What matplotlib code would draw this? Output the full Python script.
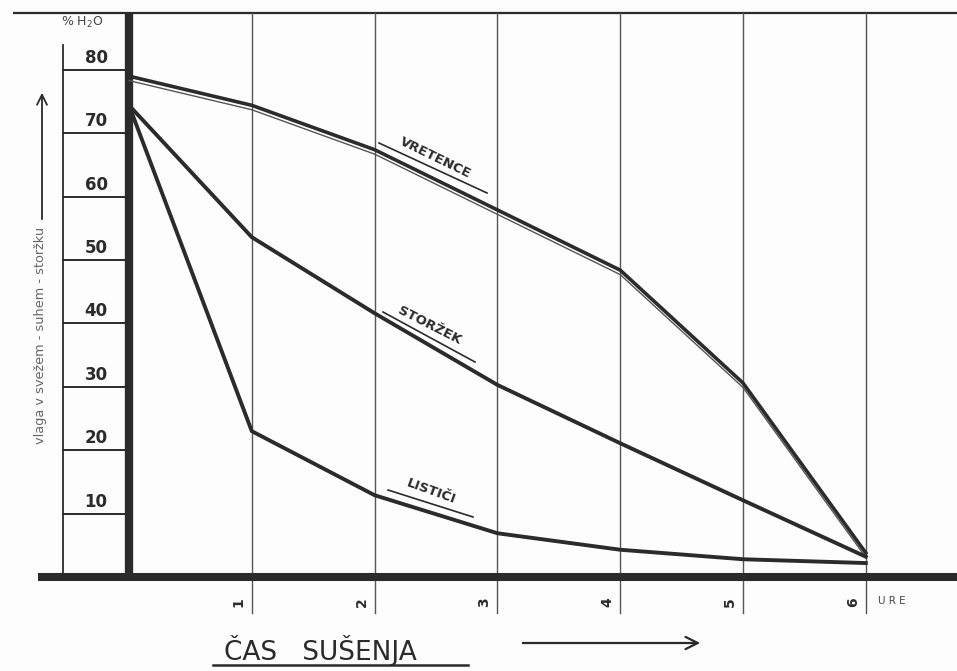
import matplotlib
matplotlib.use('Agg')
import matplotlib.pyplot as plt
import matplotlib.patheffects as pe

# drying curves, % H2O against hours
hours = [0, 1, 2, 3, 4, 5, 6]
vretence = [79.0, 74.4, 67.4, 57.9, 48.4, 30.6, 3.8]
storzek = [74.4, 53.6, 41.6, 30.3, 21.1, 12.1, 3.2]
listici = [74.4, 23.0, 12.9, 6.9, 4.3, 2.8, 2.2]
y_ticks = [10, 20, 30, 40, 50, 60, 70, 80]
x_ticks = [1, 2, 3, 4, 5, 6]

ink = '#2b2b2b'
W, H = 957, 671
# origin and scale of the drawing in pixels
X0, Y0 = 129, 577
PX_H, PX_P = 122.8, 6.34


def px(x, y):
    # pixel position -> data position
    return (x - X0) / PX_H, (Y0 - y) / PX_P


fig = plt.figure(figsize=(W / 100, H / 100), dpi=100)
fig.patch.set_facecolor('#fdfdfd')
ax = fig.add_axes([0, 0, 1, 1])
ax.set_xlim(px(0, 0)[0], px(W, 0)[0])
ax.set_ylim(px(0, H)[1], px(0, 0)[1])
ax.axis('off')

top = px(0, 13)[1]
bottom_grid = px(0, 613)[1]
xmax = px(W, 0)[0]

# frame
ax.plot([px(13, 0)[0], xmax], [top, top], color=ink, lw=1.6, solid_capstyle='butt')
for h in x_ticks:
    ax.plot([h, h], [bottom_grid, top], color='#555555', lw=1.0)
ax.plot([px(38, 0)[0], xmax], [0, 0], color=ink, lw=5.8, solid_capstyle='butt')
ax.plot([0, 0], [0, top], color=ink, lw=6.0, solid_capstyle='butt')

# y scale
xs = px(63, 0)[0]
ax.plot([xs, xs], [0, px(0, 45)[1]], color=ink, lw=1.3)
for v in y_ticks:
    ax.plot([xs, 0], [v, v], color=ink, lw=1.4)
    ax.text(px(96, 0)[0], v + 12 / PX_P, str(v), ha='center', va='center',
            fontsize=12, fontweight='bold', color=ink)
ax.text(*px(82, 22), '% H$_2$O', ha='center', va='center', fontsize=9, color='#444444')

ax.text(*px(41, 335), 'vlaga v svežem - suhem - storžku', rotation=90,
        ha='center', va='center', fontsize=9.3, color='#666666')
ax.annotate('', xy=px(42, 90), xytext=px(42, 222),
            arrowprops=dict(arrowstyle='->', lw=1.3, color=ink, mutation_scale=18))

# x scale
for h in x_ticks:
    ax.text(h - 13 / PX_H, px(0, 602)[1], str(h), rotation=90, ha='center', va='center',
            fontsize=10, fontweight='bold', color=ink)
ax.text(*px(878, 601), 'U R E', ha='left', va='center', fontsize=7.5, color='#444444')

ax.text(*px(224, 651), 'ČAS   SUŠENJA', ha='left', va='center', fontsize=19, color=ink)
ax.plot([px(213, 0)[0], px(468, 0)[0]], [px(0, 665)[1]] * 2, color=ink, lw=1.8)
ax.annotate('', xy=px(703, 643), xytext=px(520, 643),
            arrowprops=dict(arrowstyle='->', lw=1.6, color=ink, mutation_scale=22))

# curves
ax.plot(hours, vretence, color=ink, lw=2.6, solid_joinstyle='miter',
        path_effects=[pe.Stroke(linewidth=1.0, foreground='#555555', offset=(0, -3.2)),
                      pe.Normal()])
ax.plot(hours, storzek, color=ink, lw=2.8)
ax.plot(hours, listici, color=ink, lw=2.8)

# curve names with underline
labels = [('VRETENCE', (435, 158), -26, (379, 143), (487, 193)),
          ('STORŽEK', (429, 326), -27, (383, 312), (475, 362)),
          ('LISTIČI', (431, 492), -20, (388, 490), (473, 517))]
for name, pos, rot, u0, u1 in labels:
    ax.text(*px(*pos), name, rotation=rot, rotation_mode='anchor', ha='center', va='center',
            fontsize=9.5, fontweight='bold', color=ink)
    a, b = px(*u0), px(*u1)
    ax.plot([a[0], b[0]], [a[1], b[1]], color=ink, lw=1.2)

fig.savefig('out.png', dpi=100, facecolor=fig.get_facecolor())
